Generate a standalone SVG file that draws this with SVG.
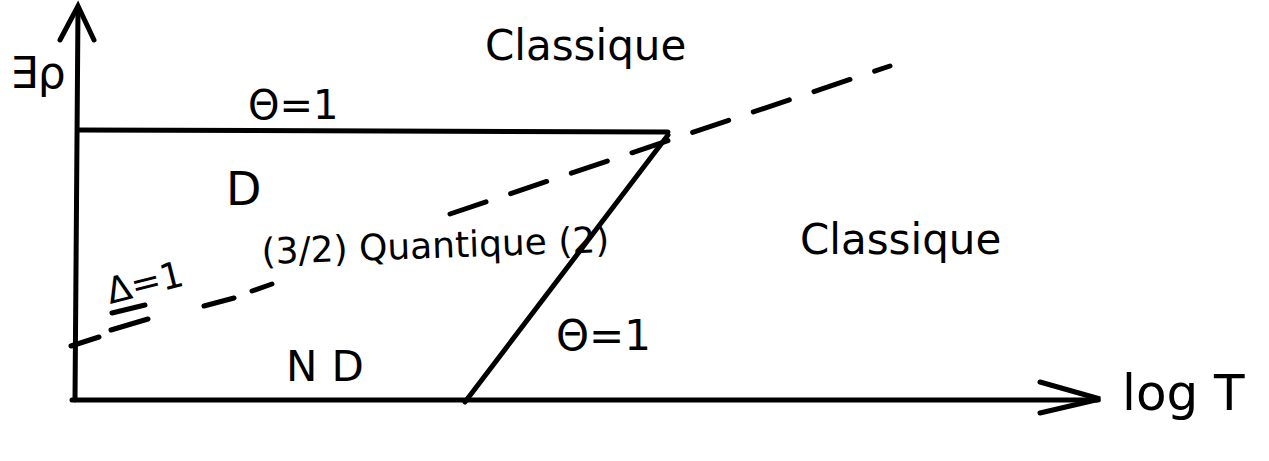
<svg xmlns="http://www.w3.org/2000/svg" width="1269" height="461" viewBox="0 0 1269 461">
<defs>
<style>
.ln{stroke:#000;stroke-width:5;fill:none;stroke-linecap:round}
.dash{stroke:#000;stroke-width:5;fill:none;stroke-linecap:round;stroke-dasharray:38 26}
.t{font-family:"DejaVu Sans","Liberation Sans",sans-serif;fill:#000}
</style>
</defs>
<rect width="1269" height="461" fill="#fff"/>
<g id="connectors">
<path class="ln" d="M75,400 L78,8"/>
<path class="ln" d="M60,40 L78,6 L94,40"/>
<path class="ln" d="M72,400 L1098,400"/>
<path class="ln" d="M1040,382 L1100,399 L1040,413"/>
<path class="ln" d="M78,130 L668,132"/>
<path class="ln" d="M668,135 L465,402"/>
<path class="ln" d="M71,346 L99,337 M111,330 L148,319 M204,306 L234,298 M252,291 L272,284"/>
<path class="dash" d="M450,214 L890,66"/>
</g>
<g id="axis-y"><text class="t" x="10" y="88" font-size="44">∃ρ</text></g>
<g id="axis-x"><text class="t" x="1122" y="410" font-size="50">log T</text></g>
<g id="classique-top"><text class="t" x="485" y="60" font-size="42">Classique</text></g>
<g id="theta-top"><text class="t" x="248" y="119" font-size="40">Θ=1</text></g>
<g id="region-D"><text class="t" x="226" y="205" font-size="46">D</text></g>
<g id="quantique"><text class="t" x="262" y="264" font-size="36" transform="rotate(-2 262 264)">(3/2) Quantique (2)</text></g>
<g id="delta"><text class="t" x="110" y="304" font-size="36" transform="rotate(-14 110 304)">Δ=1</text>
<path class="ln" d="M112,313 L145,305" stroke-width="4"/></g>
<g id="classique-right"><text class="t" x="800" y="254" font-size="42">Classique</text></g>
<g id="theta-slant"><text class="t" x="556" y="350" font-size="42">Θ=1</text></g>
<g id="region-ND"><text class="t" x="286" y="381" font-size="42" letter-spacing="14">ND</text></g>
</svg>
